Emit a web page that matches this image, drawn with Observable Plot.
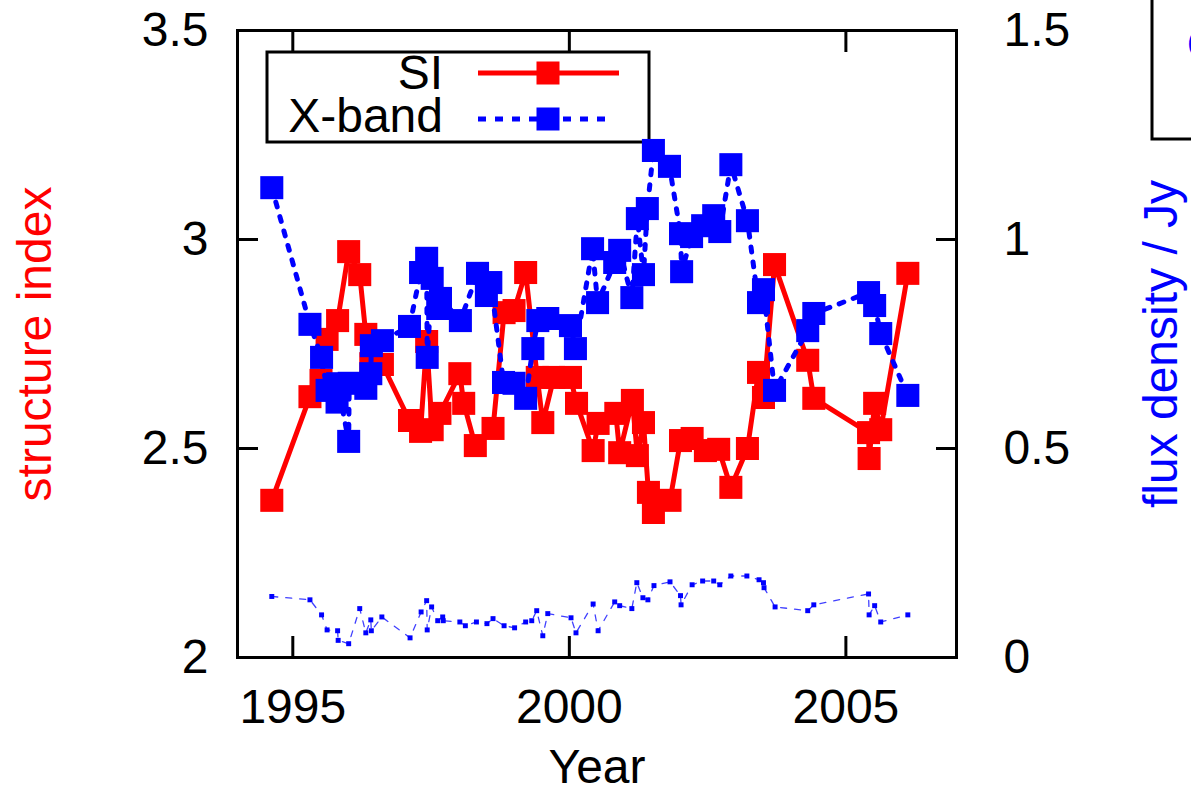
<!DOCTYPE html>
<html>
<head>
<meta charset="utf-8">
<script src="https://cdn.jsdelivr.net/npm/d3@7"></script>
<script src="https://cdn.jsdelivr.net/npm/@observablehq/plot@0.6"></script>
<style>
  html, body { margin: 0; padding: 0; background: #fff; overflow: hidden; }
  #wrap { position: relative; width: 1191px; height: 790px; font-family: 'Liberation Sans', Arial, Helvetica, sans-serif; }
  #wrap > svg.plot { position: absolute; left: 0; top: 0; z-index: 1; background: transparent; }
  .overlay { position: absolute; z-index: 0; }
</style>
</head>
<body>
<div id="wrap"></div>
<script>
// ---- data ----
const xTicks = [1995, 2000, 2005];
const siTicks = [2, 2.5, 3, 3.5];
const fluxTicks = [0, 0.5, 1, 1.5];

const siYear = [1994.62, 1995.31, 1995.51, 1995.62, 1995.81, 1996.01, 1996.21, 1996.32, 1996.41, 1996.62,
  1997.11, 1997.31, 1997.42, 1997.52, 1997.66, 1998.02, 1998.09, 1998.30, 1998.62, 1998.82,
  1999.00, 1999.21, 1999.42, 1999.52, 1999.72, 2000.02, 2000.13, 2000.43, 2000.52, 2000.84,
  2000.91, 2001.14, 2001.23, 2001.34, 2001.43, 2001.52, 2001.82, 2002.01, 2002.22, 2002.46,
  2002.70, 2002.92, 2003.22, 2003.42, 2003.51, 2003.71, 2004.31, 2004.42, 2005.41, 2005.42,
  2005.52, 2005.63, 2006.12];
const siValue = [2.376, 2.624, 2.663, 2.761, 2.806, 2.971, 2.916, 2.773, 2.703, 2.701,
  2.567, 2.541, 2.756, 2.545, 2.584, 2.679, 2.608, 2.507, 2.548, 2.825,
  2.830, 2.921, 2.670, 2.562, 2.670, 2.670, 2.608, 2.495, 2.560, 2.584,
  2.490, 2.615, 2.483, 2.562, 2.395, 2.347, 2.376, 2.519, 2.524, 2.495,
  2.498, 2.407, 2.500, 2.682, 2.622, 2.940, 2.711, 2.620, 2.538, 2.476,
  2.608, 2.545, 2.919];

const xbandYear = [1994.62, 1995.31, 1995.52, 1995.62, 1995.80, 1995.81, 1996.01, 1996.02, 1996.32, 1996.41,
  1996.42, 1996.62, 1997.11, 1997.31, 1997.42, 1997.43, 1997.52, 1997.62, 1997.67, 1998.03,
  1998.34, 1998.50, 1998.58, 1998.81, 1999.00, 1999.21, 1999.34, 1999.43, 1999.61, 2000.02,
  2000.11, 2000.42, 2000.51, 2000.82, 2000.91, 2001.13, 2001.23, 2001.34, 2001.41, 2001.52,
  2001.81, 2002.01, 2002.03, 2002.21, 2002.41, 2002.61, 2002.72, 2002.92, 2003.22, 2003.42,
  2003.51, 2003.71, 2004.31, 2004.42, 2005.41, 2005.52, 2005.63, 2006.12];
const xbandFlux = [1.124, 0.797, 0.718, 0.639, 0.611, 0.655, 0.517, 0.656, 0.644, 0.679,
  0.746, 0.758, 0.792, 0.921, 0.955, 0.718, 0.907, 0.835, 0.859, 0.806,
  0.919, 0.866, 0.897, 0.658, 0.656, 0.620, 0.739, 0.806, 0.811, 0.794,
  0.739, 0.978, 0.849, 0.945, 0.974, 0.861, 1.050, 0.916, 1.074, 1.213,
  1.175, 1.014, 0.923, 1.007, 1.033, 1.057, 1.019, 1.179, 1.045, 0.849,
  0.880, 0.639, 0.782, 0.823, 0.873, 0.842, 0.775, 0.627];

const coreYear = [1994.62, 1995.31, 1995.52, 1995.62, 1995.81, 1995.82, 1996.01, 1996.21, 1996.32, 1996.41,
  1996.42, 1996.61, 1997.12, 1997.32, 1997.42, 1997.43, 1997.51, 1997.62, 1997.71, 1997.72,
  1998.02, 1998.12, 1998.32, 1998.51, 1998.62, 1998.82, 1999.01, 1999.21, 1999.32, 1999.41,
  1999.52, 1999.61, 2000.03, 2000.12, 2000.43, 2000.52, 2000.82, 2000.91, 2001.13, 2001.22,
  2001.33, 2001.42, 2001.53, 2001.82, 2002.01, 2002.02, 2002.22, 2002.41, 2002.61, 2002.72,
  2002.92, 2003.21, 2003.43, 2003.51, 2003.52, 2003.72, 2004.31, 2004.42, 2005.41, 2005.42,
  2005.52, 2005.63, 2006.12];
const coreFlux = [0.146, 0.138, 0.102, 0.066, 0.064, 0.041, 0.033, 0.117, 0.059, 0.090,
  0.064, 0.097, 0.047, 0.109, 0.136, 0.066, 0.121, 0.088, 0.097, 0.088,
  0.085, 0.076, 0.085, 0.081, 0.093, 0.076, 0.071, 0.085, 0.088, 0.112,
  0.052, 0.105, 0.095, 0.059, 0.128, 0.064, 0.133, 0.124, 0.117, 0.179,
  0.143, 0.138, 0.172, 0.181, 0.148, 0.126, 0.174, 0.183, 0.183, 0.174,
  0.195, 0.195, 0.186, 0.179, 0.167, 0.121, 0.112, 0.126, 0.152, 0.102,
  0.124, 0.085, 0.102];

// flux density shares the frame with SI: flux 0..1.5 sits on SI 2..3.5
const fluxOffset = 2;

const si = siYear.map((t, i) => ({t, v: siValue[i]}));
const xband = xbandYear.map((t, i) => ({t, v: fluxOffset + xbandFlux[i]}));
const core = coreYear.map((t, i) => ({t, v: fluxOffset + coreFlux[i]}));

const FONT = "'Liberation Sans', Arial, Helvetica, sans-serif";
const RED = "#ff0000", BLUE = "#0000ff";
const FS = 48;

const chart = Plot.plot({
  width: 1191,
  height: 790,
  marginLeft: 237,
  marginRight: 235,
  marginTop: 30,
  marginBottom: 133,
  x: {domain: [1994, 2007]},
  y: {domain: [2, 3.5]},
  style: {fontFamily: FONT, background: "transparent", color: "black"},
  marks: [
    Plot.axisX(xTicks, {anchor: "bottom", tickSize: 0, tickPadding: 31, fontSize: FS, tickFormat: d => String(d), label: null}),
    Plot.axisX(xTicks, {anchor: "bottom", tickSize: -21, strokeWidth: 3, fill: "none", label: null}),
    Plot.axisX(xTicks, {anchor: "top", tickSize: -21, strokeWidth: 3, fill: "none", label: null}),
    Plot.axisY(siTicks, {anchor: "left", tickSize: 0, tickPadding: 29, fontSize: FS, tickFormat: d => String(d), label: null}),
    Plot.axisY(siTicks, {anchor: "left", tickSize: -21, strokeWidth: 3, fill: "none", label: null}),
    Plot.axisY(fluxTicks.map(f => f + fluxOffset), {anchor: "right", tickSize: -21, strokeWidth: 3, fill: "none", label: null}),
    Plot.axisY(fluxTicks.map(f => f + fluxOffset), {anchor: "right", tickSize: 0, tickPadding: 47, fontSize: FS,
      tickFormat: d => String(+(d - fluxOffset).toFixed(1)), label: null}),
    Plot.frame({strokeWidth: 3}),
    Plot.line(si, {x: "t", y: "v", stroke: RED, strokeWidth: 5}),
    Plot.dot(si, {x: "t", y: "v", symbol: "square", r: 13, fill: RED}),
    Plot.line(xband, {x: "t", y: "v", stroke: BLUE, strokeWidth: 5, strokeDasharray: "5,10"}),
    Plot.dot(xband, {x: "t", y: "v", symbol: "square", r: 13, fill: BLUE}),
    Plot.line(core, {x: "t", y: "v", stroke: BLUE, strokeWidth: 1.3, strokeDasharray: "6,8", strokeOpacity: 0.75}),
    Plot.dot(core, {x: "t", y: "v", symbol: "square", r: 2.8, fill: BLUE}),
    Plot.text(["Year"], {frameAnchor: "bottom", lineAnchor: "top", dy: 91, fontSize: FS, fill: "black"}),
    Plot.text(["structure index"], {frameAnchor: "left", textAnchor: "middle", rotate: -90, dx: -202, fontSize: FS, fill: RED}),
    Plot.text(["flux density / Jy"], {frameAnchor: "right", textAnchor: "middle", rotate: -90, dx: 205, fontSize: FS, fill: BLUE})
  ]
});
chart.classList.add("plot");
const wrap = document.getElementById("wrap");
wrap.appendChild(chart);

// legend (behind the transparent plot svg, like an unfilled gnuplot key)
const legendLabels = ["SI", "X-band"];
const legend = document.createElement("div");
legend.className = "overlay";
legend.style.left = "260px";
legend.style.top = "45px";
legend.innerHTML = `
<svg width="400" height="104" xmlns="http://www.w3.org/2000/svg" style="font-family:${FONT}">
  <rect x="7" y="7" width="382" height="90" fill="none" stroke="black" stroke-width="3"/>
  <text x="183" y="44" text-anchor="end" font-size="${FS}">${legendLabels[0]}</text>
  <text x="183" y="87" text-anchor="end" font-size="${FS}">${legendLabels[1]}</text>
  <line x1="218" y1="28" x2="359" y2="28" stroke="${RED}" stroke-width="5"/>
  <rect x="276.5" y="16.5" width="23" height="23" fill="${RED}"/>
  <line x1="218" y1="74" x2="350" y2="74" stroke="${BLUE}" stroke-width="5" stroke-dasharray="8,9"/>
  <rect x="276.5" y="62.5" width="23" height="23" fill="${BLUE}"/>
</svg>`;
wrap.appendChild(legend);

// partially visible second key at the top right edge
const key2 = document.createElement("div");
key2.className = "overlay";
key2.style.left = "1140px";
key2.style.top = "0px";
key2.innerHTML = `
<svg width="51" height="160" xmlns="http://www.w3.org/2000/svg" style="font-family:${FONT}">
  <rect x="12" y="-10" width="120" height="149" fill="none" stroke="black" stroke-width="3"/>
  <text x="47" y="57" font-size="${FS}" fill="${BLUE}">core</text>
</svg>`;
wrap.appendChild(key2);
</script>
</body>
</html>
